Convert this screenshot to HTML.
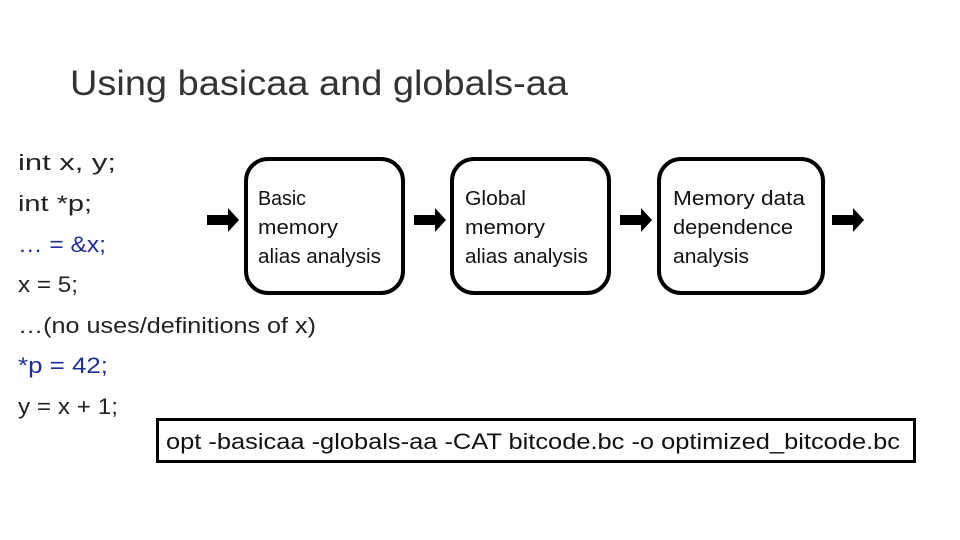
<!DOCTYPE html>
<html><head><meta charset="utf-8"><style>
html,body{margin:0;padding:0;background:#fff;}
svg{display:block;}
text{font-family:"Liberation Sans",sans-serif;}
</style></head><body>
<svg width="960" height="540" viewBox="0 0 960 540" xmlns="http://www.w3.org/2000/svg">
<rect width="960" height="540" fill="#fff"/>
<text x="70" y="95" font-size="35" fill="#333" textLength="498" lengthAdjust="spacingAndGlyphs">Using basicaa and globals-aa</text>

<g font-size="22" fill="#222">
<text x="18" y="170" textLength="98" lengthAdjust="spacingAndGlyphs">int x, y;</text>
<text x="18" y="211" textLength="74" lengthAdjust="spacingAndGlyphs">int *p;</text>
<text x="18" y="252" fill="#1f2d96" textLength="88" lengthAdjust="spacingAndGlyphs">… = &amp;x;</text>
<text x="18" y="292" textLength="60" lengthAdjust="spacingAndGlyphs">x = 5;</text>
<text x="18" y="333" textLength="298" lengthAdjust="spacingAndGlyphs">…(no uses/definitions of x)</text>
<text x="18" y="373" fill="#1f2d96" textLength="90" lengthAdjust="spacingAndGlyphs">*p = 42;</text>
<text x="18" y="414" textLength="100" lengthAdjust="spacingAndGlyphs">y = x + 1;</text>
</g>

<g fill="#fff" stroke="#000" stroke-width="4">
<rect x="246" y="159" width="157" height="134" rx="22"/>
<rect x="452" y="159" width="157" height="134" rx="22"/>
<rect x="659" y="159" width="164" height="134" rx="22"/>
</g>

<g font-size="20" fill="#111">
<text x="258" y="205" textLength="48" lengthAdjust="spacingAndGlyphs">Basic</text>
<text x="258" y="234" textLength="80" lengthAdjust="spacingAndGlyphs">memory</text>
<text x="258" y="263" textLength="123" lengthAdjust="spacingAndGlyphs">alias analysis</text>
<text x="465" y="205" textLength="61" lengthAdjust="spacingAndGlyphs">Global</text>
<text x="465" y="234" textLength="80" lengthAdjust="spacingAndGlyphs">memory</text>
<text x="465" y="263" textLength="123" lengthAdjust="spacingAndGlyphs">alias analysis</text>
<text x="673" y="205" textLength="132" lengthAdjust="spacingAndGlyphs">Memory data</text>
<text x="673" y="234" textLength="120" lengthAdjust="spacingAndGlyphs">dependence</text>
<text x="673" y="263" textLength="76" lengthAdjust="spacingAndGlyphs">analysis</text>
</g>

<g fill="#000">
<path d="M207 215 H228 V208 L239 220 L228 232 V225 H207 Z"/>
<path d="M414 215 H435 V208 L446 220 L435 232 V225 H414 Z"/>
<path d="M620 215 H641 V208 L652 220 L641 232 V225 H620 Z"/>
<path d="M832 215 H853 V208 L864 220 L853 232 V225 H832 Z"/>
</g>

<rect x="157.5" y="419.5" width="757" height="42" fill="#fff" stroke="#000" stroke-width="3"/>
<text x="166" y="449" font-size="22" fill="#111" textLength="734" lengthAdjust="spacingAndGlyphs">opt -basicaa -globals-aa -CAT bitcode.bc -o optimized_bitcode.bc</text>
</svg>
</body></html>
